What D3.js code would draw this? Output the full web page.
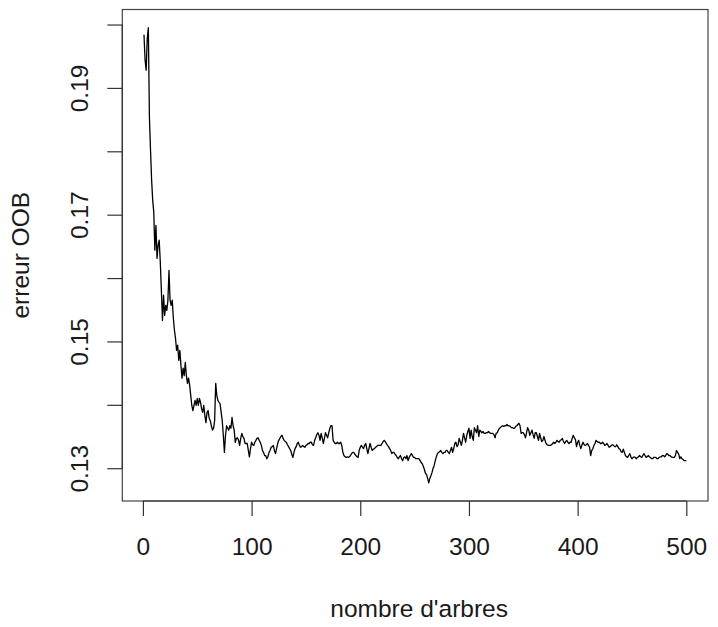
<!DOCTYPE html>
<html>
<head>
<meta charset="utf-8">
<script src="https://cdn.jsdelivr.net/npm/d3@7"></script>
<style>
  html, body { margin: 0; padding: 0; background: #ffffff; }
  svg { display: block; }
  text { font-family: "Liberation Sans", Arial, Helvetica, sans-serif; fill: #1a1a1a; }
</style>
</head>
<body>
<svg id="chart" width="718" height="627"></svg>
<script>
// ---- data ----
const nTrees = 500;
const trees = d3.range(1, nTrees + 1);
const oobError = [
  0.1984, 0.1944, 0.1928, 0.1978, 0.1995, 0.1853, 0.1802, 0.1755, 0.1723, 0.1704,
  0.1644, 0.1683, 0.1631, 0.1652, 0.1660, 0.1625, 0.1581, 0.1533, 0.1573, 0.1541,
  0.1557, 0.1549, 0.1565, 0.1612, 0.1565, 0.1557, 0.1565, 0.1537, 0.1518, 0.1505,
  0.1486, 0.1494, 0.1470, 0.1486, 0.1462, 0.1442, 0.1458, 0.1446, 0.1467, 0.1446,
  0.1434, 0.1442, 0.1431, 0.1415, 0.1399, 0.1391, 0.1399, 0.1407, 0.1399, 0.1410,
  0.1399, 0.1410, 0.1404, 0.1394, 0.1388, 0.1399, 0.1383, 0.1372, 0.1388, 0.1391,
  0.1379, 0.1375, 0.1367, 0.1360, 0.1363, 0.1375, 0.1434, 0.1415, 0.1407, 0.1404,
  0.1402, 0.1388, 0.1375, 0.1352, 0.1325, 0.1352, 0.1367, 0.1363, 0.1360, 0.1367,
  0.1363, 0.1380, 0.1367, 0.1360, 0.1341, 0.1347, 0.1348, 0.1344, 0.1336, 0.1347,
  0.1355, 0.1350, 0.1347, 0.1339, 0.1339, 0.1339, 0.1328, 0.1318, 0.1331, 0.1341,
  0.1337, 0.1336, 0.1341, 0.1344, 0.1347, 0.1348, 0.1344, 0.1341, 0.1336, 0.1328,
  0.1325, 0.1320, 0.1320, 0.1315, 0.1318, 0.1325, 0.1328, 0.1333, 0.1334, 0.1336,
  0.1328, 0.1323, 0.1331, 0.1339, 0.1344, 0.1347, 0.1350, 0.1352, 0.1347, 0.1344,
  0.1342, 0.1341, 0.1337, 0.1334, 0.1331, 0.1328, 0.1322, 0.1317, 0.1325, 0.1331,
  0.1334, 0.1339, 0.1341, 0.1336, 0.1333, 0.1334, 0.1336, 0.1334, 0.1333, 0.1336,
  0.1337, 0.1339, 0.1339, 0.1341, 0.1341, 0.1337, 0.1336, 0.1344, 0.1348, 0.1353,
  0.1356, 0.1352, 0.1344, 0.1355, 0.1348, 0.1339, 0.1347, 0.1356, 0.1352, 0.1348,
  0.1356, 0.1363, 0.1367, 0.1367, 0.1344, 0.1341, 0.1339, 0.1339, 0.1341, 0.1339,
  0.1339, 0.1341, 0.1336, 0.1325, 0.1320, 0.1318, 0.1317, 0.1318, 0.1317, 0.1318,
  0.1320, 0.1323, 0.1325, 0.1325, 0.1322, 0.1320, 0.1318, 0.1317, 0.1328, 0.1333,
  0.1336, 0.1333, 0.1331, 0.1336, 0.1339, 0.1331, 0.1323, 0.1331, 0.1339, 0.1333,
  0.1328, 0.1330, 0.1331, 0.1333, 0.1334, 0.1336, 0.1336, 0.1336, 0.1336, 0.1339,
  0.1342, 0.1344, 0.1342, 0.1339, 0.1336, 0.1334, 0.1331, 0.1328, 0.1323, 0.1325,
  0.1325, 0.1322, 0.1320, 0.1317, 0.1315, 0.1318, 0.1320, 0.1315, 0.1312, 0.1317,
  0.1318, 0.1315, 0.1320, 0.1312, 0.1317, 0.1320, 0.1323, 0.1320, 0.1317, 0.1317,
  0.1315, 0.1315, 0.1315, 0.1315, 0.1312, 0.1309, 0.1307, 0.1303, 0.1298, 0.1292,
  0.1290, 0.1284, 0.1277, 0.1284, 0.1288, 0.1293, 0.1300, 0.1304, 0.1312, 0.1318,
  0.1323, 0.1325, 0.1326, 0.1328, 0.1325, 0.1323, 0.1325, 0.1325, 0.1328, 0.1328,
  0.1325, 0.1323, 0.1328, 0.1333, 0.1325, 0.1331, 0.1339, 0.1341, 0.1334, 0.1337,
  0.1347, 0.1342, 0.1336, 0.1344, 0.1355, 0.1348, 0.1341, 0.1352, 0.1358, 0.1363,
  0.1347, 0.1360, 0.1350, 0.1344, 0.1364, 0.1360, 0.1356, 0.1367, 0.1350, 0.1360,
  0.1358, 0.1356, 0.1358, 0.1355, 0.1355, 0.1356, 0.1356, 0.1358, 0.1356, 0.1355,
  0.1355, 0.1355, 0.1353, 0.1348, 0.1355, 0.1356, 0.1360, 0.1363, 0.1364, 0.1366,
  0.1367, 0.1366, 0.1367, 0.1367, 0.1369, 0.1367, 0.1367, 0.1366, 0.1364, 0.1364,
  0.1363, 0.1363, 0.1366, 0.1367, 0.1369, 0.1371, 0.1367, 0.1355, 0.1356, 0.1356,
  0.1353, 0.1348, 0.1356, 0.1364, 0.1360, 0.1352, 0.1356, 0.1360, 0.1353, 0.1347,
  0.1356, 0.1356, 0.1350, 0.1344, 0.1355, 0.1348, 0.1342, 0.1344, 0.1350, 0.1344,
  0.1339, 0.1337, 0.1336, 0.1336, 0.1336, 0.1337, 0.1339, 0.1341, 0.1339, 0.1341,
  0.1344, 0.1342, 0.1341, 0.1344, 0.1345, 0.1347, 0.1342, 0.1339, 0.1342, 0.1344,
  0.1341, 0.1339, 0.1341, 0.1341, 0.1347, 0.1352, 0.1348, 0.1345, 0.1334, 0.1341,
  0.1344, 0.1336, 0.1331, 0.1337, 0.1341, 0.1337, 0.1336, 0.1337, 0.1339, 0.1336,
  0.1333, 0.1320, 0.1328, 0.1331, 0.1336, 0.1339, 0.1344, 0.1342, 0.1341, 0.1341,
  0.1339, 0.1339, 0.1341, 0.1339, 0.1336, 0.1337, 0.1339, 0.1336, 0.1333, 0.1334,
  0.1336, 0.1337, 0.1336, 0.1334, 0.1334, 0.1337, 0.1334, 0.1331, 0.1330, 0.1326,
  0.1325, 0.1330, 0.1325, 0.1320, 0.1318, 0.1317, 0.1320, 0.1323, 0.1318, 0.1315,
  0.1317, 0.1318, 0.1317, 0.1315, 0.1317, 0.1318, 0.1320, 0.1318, 0.1317, 0.1320,
  0.1323, 0.1320, 0.1317, 0.1318, 0.1320, 0.1318, 0.1317, 0.1315, 0.1315, 0.1317,
  0.1317, 0.1317, 0.1315, 0.1315, 0.1317, 0.1318, 0.1318, 0.1320, 0.1320, 0.1318,
  0.1320, 0.1323, 0.1322, 0.1320, 0.1320, 0.1318, 0.1317, 0.1317, 0.1317, 0.1320,
  0.1328, 0.1325, 0.1322, 0.1315, 0.1318, 0.1315, 0.1314, 0.1312, 0.1312, 0.1312
];
const xTicks = [0, 100, 200, 300, 400, 500];
const yTicks = [0.13, 0.14, 0.15, 0.16, 0.17, 0.18, 0.19, 0.20];
const yLabelled = [0.13, 0.15, 0.17, 0.19];
const xTitle = "nombre d'arbres";
const yTitle = "erreur OOB";

// ---- layout ----
const box = { left: 122.3, right: 708, top: 9.5, bottom: 501 };
const svg = d3.select("#chart");

// R-style 4% padding of the data range
function padded(ext) {
  const r = ext[1] - ext[0];
  return [ext[0] - 0.04 * r, ext[1] + 0.04 * r];
}
const x = d3.scaleLinear().domain(padded(d3.extent(trees))).range([box.left, box.right]);
const y = d3.scaleLinear().domain(padded(d3.extent(oobError))).range([box.bottom, box.top]);

const fs = 24.5;

// plot box
svg.append("rect")
  .attr("x", box.left).attr("y", box.top)
  .attr("width", box.right - box.left).attr("height", box.bottom - box.top)
  .attr("fill", "none").attr("stroke", "#444").attr("stroke-width", 1.2);

// x axis
const gx = svg.append("g").attr("transform", `translate(0,${box.bottom})`)
  .call(d3.axisBottom(x).tickValues(xTicks).tickSize(15).tickPadding(22).tickFormat(d3.format("d")));
gx.select(".domain").attr("stroke", "#333").attr("stroke-width", 1.2)
  .attr("d", `M${x(xTicks[0])},0H${x(xTicks[xTicks.length - 1])}`);
gx.selectAll(".tick line").attr("stroke", "#333").attr("stroke-width", 1.2);
gx.selectAll(".tick text").attr("font-size", fs).attr("fill", "#1a1a1a")
  .style("font-family", "'Liberation Sans', Arial, sans-serif");

// y axis
const gy = svg.append("g").attr("transform", `translate(${box.left},0)`)
  .call(d3.axisLeft(y).tickValues(yTicks).tickSize(15)
    .tickFormat(d => yLabelled.some(v => Math.abs(v - d) < 1e-9) ? d3.format(".2f")(d) : ""));
gy.select(".domain").attr("stroke", "#333").attr("stroke-width", 1.2)
  .attr("d", `M0,${y(yTicks[0])}V${y(yTicks[yTicks.length - 1])}`);
gy.selectAll(".tick line").attr("stroke", "#333").attr("stroke-width", 1.2);
gy.selectAll(".tick text")
  .attr("font-size", fs).attr("fill", "#1a1a1a")
  .style("font-family", "'Liberation Sans', Arial, sans-serif")
  .attr("text-anchor", "middle")
  .attr("x", null).attr("dy", null)
  .attr("transform", "translate(-43,0) rotate(-90)")
  .attr("y", 0).attr("dy", "0.35em");

// line
const line = d3.line().x((d, i) => x(trees[i])).y(d => y(d));
svg.append("path").datum(oobError)
  .attr("d", line).attr("fill", "none")
  .attr("stroke", "#000").attr("stroke-width", 1.3).attr("stroke-linejoin", "round");

// titles
svg.append("text").attr("x", (box.left + box.right) / 2 + 4).attr("y", 617)
  .attr("text-anchor", "middle").attr("font-size", fs).text(xTitle);
svg.append("text").attr("transform", `translate(29,${(box.top + box.bottom) / 2}) rotate(-90)`)
  .attr("text-anchor", "middle").attr("font-size", fs).text(yTitle);
</script>
</body>
</html>
